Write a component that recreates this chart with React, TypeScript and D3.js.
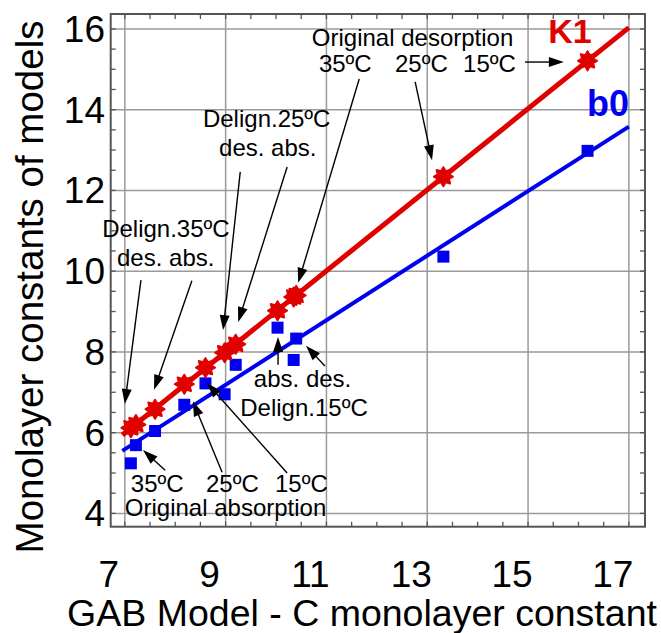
import React from "react";
import * as d3 from "d3";

// ---- data ----
const C_VALUES = [7.12, 7.22, 7.6, 8.18, 8.6, 8.98, 9.2, 10.03, 10.35, 10.4, 13.32, 16.18];
const K1_VALUES = [6.12, 6.2, 6.58, 7.2, 7.61, 7.98, 8.19, 9.02, 9.36, 9.4, 12.34, 15.21];
const B0_VALUES = [5.24, 5.69, 6.04, 6.69, 7.22, 6.95, 7.68, 8.6, 7.8, 8.33, 10.36, 12.98];
const FIT_RANGE = [6.95, 17];
const X_TICKS = [7, 9, 11, 13, 15, 17];
const Y_TICKS = [4, 6, 8, 10, 12, 14, 16];
const X_DOMAIN = [6.72, 17.32];
const Y_DOMAIN = [3.67, 16.37];

// annotation texts [label, x, y] in data coordinates
const ANNOT_TEXTS: [string, number, number][] = [
  ["Original desorption", 10.71, 15.58],
  ["35ºC", 10.85, 14.93],
  ["25ºC", 12.36, 14.93],
  ["15ºC", 13.71, 14.93],
  ["Delign.25ºC", 8.55, 13.57],
  ["des. abs.", 8.87, 12.85],
  ["Delign.35ºC", 6.55, 10.85],
  ["des. abs.", 6.845, 10.13],
  ["abs. des.", 9.56, 7.13],
  ["Delign.15ºC", 9.29, 6.41],
  ["35ºC", 7.12, 4.52],
  ["25ºC", 8.61, 4.52],
  ["15ºC", 9.98, 4.52],
  ["Original absorption", 7.0, 3.935],
];
// arrows [x0, y0, x1(tip), y1(tip)] in data coordinates
const ARROWS: [number, number, number, number][] = [
  [11.65, 14.76, 10.44, 9.71],
  [12.76, 14.69, 13.095, 12.75],
  [14.94, 15.18, 15.71, 15.18],
  [9.29, 12.46, 8.95, 8.54],
  [10.22, 12.58, 9.25, 8.74],
  [7.32, 9.78, 7.0, 6.71],
  [8.33, 9.76, 7.58, 7.06],
  [10.04, 7.68, 10.04, 8.37],
  [10.97, 7.65, 10.595, 8.15],
  [7.8, 5.07, 7.36, 5.57],
  [8.93, 5.02, 8.35, 6.78],
  [10.22, 5.0, 8.63, 7.23],
];
const SERIES_LABELS: [string, number, number][] = [
  ["K1", 15.4, 15.65],
  ["b0", 16.17, 13.84],
];

const FONT = "'Liberation Sans', Arial, Helvetica, sans-serif";
const RED = "#e00000";
const BLUE = "#0000f0";
const X_LABEL_OFFSET = -16;

function fit(xs: number[], ys: number[]) {
  const mx = d3.mean(xs)!;
  const my = d3.mean(ys)!;
  let sxy = 0, sxx = 0;
  xs.forEach((x, i) => {
    sxy += (x - mx) * (ys[i] - my);
    sxx += (x - mx) * (x - mx);
  });
  const slope = sxy / sxx;
  return (x: number) => my + slope * (x - mx);
}

function starPath(r1: number, r2: number, n: number) {
  const pts: [number, number][] = [];
  for (let i = 0; i < n * 2; i++) {
    const a = (Math.PI * i) / n - Math.PI / 2;
    const r = i % 2 === 0 ? r1 : r2;
    pts.push([r * Math.cos(a), r * Math.sin(a)]);
  }
  return "M" + pts.map((p) => p.join(",")).join("L") + "Z";
}

export default function App() {
  const W = 661, H = 633;
  const left = 110.7, right = 645, top = 14, bottom = 526.7;
  const x = d3.scaleLinear().domain(X_DOMAIN).range([left, right]);
  const y = d3.scaleLinear().domain(Y_DOMAIN).range([bottom, top]);

  const k1Fit = fit(C_VALUES, K1_VALUES);
  const b0Fit = fit(C_VALUES, B0_VALUES);
  const line = d3.line<number>();
  const k1Line = line(FIT_RANGE.map((c) => [x(c), y(k1Fit(c))] as any) as any);
  const b0Line = line(FIT_RANGE.map((c) => [x(c), y(b0Fit(c))] as any) as any);

  const minorX = d3.range(7, 17.01, 0.5);
  const minorY = d3.range(4, 16.01, 0.5);
  const tickLen = 5;
  const star = starPath(9.5, 6, 8);

  const arrowHead = (x0: number, y0: number, x1: number, y1: number) => {
    const ang = Math.atan2(y1 - y0, x1 - x0);
    const L = 15, Wd = 5;
    const bx = x1 - L * Math.cos(ang), by = y1 - L * Math.sin(ang);
    const px = -Math.sin(ang) * Wd, py = Math.cos(ang) * Wd;
    return `M${x1},${y1}L${bx + px},${by + py}L${bx - px},${by - py}Z`;
  };

  return (
    <svg
      width={W}
      height={H}
      style={{ position: "absolute", left: 0, top: 0, background: "#fff" }}
      fontFamily={FONT}
    >
      <rect x={0} y={0} width={W} height={H} fill="#fff" />
      {/* grid */}
      {X_TICKS.map((t) => (
        <line key={"gx" + t} x1={x(t)} x2={x(t)} y1={top} y2={bottom} stroke="#9a9a9a" strokeWidth={1.5} />
      ))}
      {Y_TICKS.map((t) => (
        <line key={"gy" + t} y1={y(t)} y2={y(t)} x1={left} x2={right} stroke="#9a9a9a" strokeWidth={1.5} />
      ))}
      {/* ticks */}
      {minorX.map((t) => (
        <g key={"tx" + t} stroke="#555" strokeWidth={1.3}>
          <line x1={x(t)} x2={x(t)} y1={bottom} y2={bottom - tickLen} />
          <line x1={x(t)} x2={x(t)} y1={top} y2={top + tickLen} />
        </g>
      ))}
      {minorY.map((t) => (
        <g key={"ty" + t} stroke="#555" strokeWidth={1.3}>
          <line y1={y(t)} y2={y(t)} x1={left} x2={left + tickLen} />
          <line y1={y(t)} y2={y(t)} x1={right} x2={right - tickLen} />
        </g>
      ))}
      <rect x={left} y={top} width={right - left} height={bottom - top} fill="none" stroke="#555" strokeWidth={2} />

      {/* tick labels */}
      {X_TICKS.map((t) => (
        <text key={"lx" + t} x={x(t) + X_LABEL_OFFSET} y={587} textAnchor="middle" fontSize={37} fill="#000">
          {t}
        </text>
      ))}
      {Y_TICKS.map((t) => (
        <text key={"ly" + t} x={105} y={y(t) + 13} textAnchor="end" fontSize={37} fill="#000">
          {t}
        </text>
      ))}
      {/* axis titles */}
      <text x={362} y={626} textAnchor="middle" fontSize={37.5} fill="#000">
        GAB Model - C monolayer constant
      </text>
      <text
        transform={`translate(43,${287}) rotate(-90)`}
        textAnchor="middle"
        fontSize={38.5}
        fill="#000"
      >
        Monolayer constants of models
      </text>

      {/* fit lines */}
      <path d={b0Line!} stroke={BLUE} strokeWidth={4} fill="none" />
      <path d={k1Line!} stroke={RED} strokeWidth={5} fill="none" />

      {/* markers */}
      {C_VALUES.map((c, i) => (
        <rect key={"b" + i} x={x(c) - 6} y={y(B0_VALUES[i]) - 6} width={12} height={12} fill={BLUE} />
      ))}
      {C_VALUES.map((c, i) => (
        <path key={"k" + i} d={star} transform={`translate(${x(c)},${y(K1_VALUES[i])})`} fill={RED} stroke={RED} strokeWidth={2} strokeLinejoin="round" />
      ))}

      {/* annotations */}
      {ANNOT_TEXTS.map(([s, ax, ay], i) => (
        <text key={"a" + i} x={x(ax)} y={y(ay)} fontSize={24} fill="#000">
          {s}
        </text>
      ))}
      {ARROWS.map(([x0, y0, x1, y1], i) => {
        const X0 = x(x0), Y0 = y(y0), X1 = x(x1), Y1 = y(y1);
        const ang = Math.atan2(Y1 - Y0, X1 - X0);
        return (
          <g key={"ar" + i}>
            <line x1={X0} y1={Y0} x2={X1 - 10 * Math.cos(ang)} y2={Y1 - 10 * Math.sin(ang)} stroke="#000" strokeWidth={1.4} />
            <path d={arrowHead(X0, Y0, X1, Y1)} fill="#000" />
          </g>
        );
      })}
      {SERIES_LABELS.map(([s, ax, ay], i) => (
        <text key={"s" + i} x={x(ax)} y={y(ay)} fontSize={i === 0 ? 34 : 36} fontWeight="bold" fill={i === 0 ? RED : BLUE}>
          {s}
        </text>
      ))}
    </svg>
  );
}
